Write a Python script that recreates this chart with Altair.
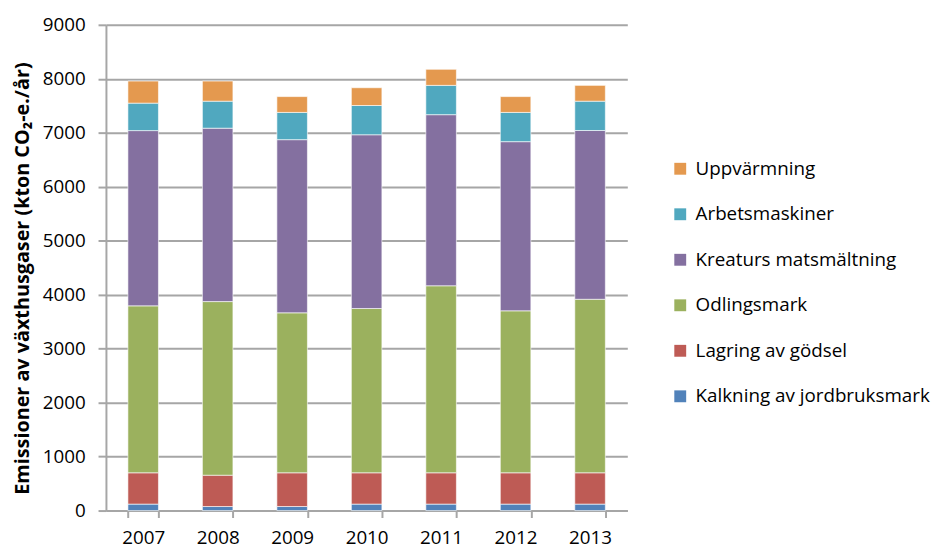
import altair as alt
import pandas as pd

years = ["2007", "2008", "2009", "2010", "2011", "2012", "2013"]
categories = [
    "Kalkning av jordbruksmark",
    "Lagring av gödsel",
    "Odlingsmark",
    "Kreaturs matsmältning",
    "Arbetsmaskiner",
    "Uppvärmning",
]
kalkning = [120, 75, 75, 120, 120, 120, 120]
lagring = [580, 580, 625, 580, 580, 580, 580]
odlingsmark = [3093, 3217, 2964, 3044, 3465, 3001, 3215]
kreatur = [3247, 3213, 3208, 3219, 3170, 3134, 3127]
arbetsmaskiner = [509, 500, 505, 542, 543, 542, 543]
uppvarmning = [409, 373, 293, 329, 298, 293, 293]
colors = ["#5182BA", "#BE5B55", "#9BB15E", "#8470A0", "#50A8BF", "#E4994F"]

series = [kalkning, lagring, odlingsmark, kreatur, arbetsmaskiner, uppvarmning]
rows = []
for ci, (cat, vals) in enumerate(zip(categories, series)):
    for y, v in zip(years, vals):
        rows.append({"År": y, "Kategori": cat, "Värde": v, "ord": ci})
df = pd.DataFrame(rows)

legend_order = list(reversed(categories))
legend_colors = list(reversed(colors))

FONT = "Open Sans"

chart = (
    alt.Chart(df)
    .mark_bar(stroke="#ffffff", strokeOpacity=0.6, strokeWidth=1)
    .encode(
        x=alt.X(
            "År:N",
            title=None,
            scale=alt.Scale(paddingInner=0.59, paddingOuter=0.295),
            axis=alt.Axis(
                labelAngle=0,
                labelFontSize=19,
                labelFont=FONT,
                labelColor="#000000",
                tickBand="extent",
                tickSize=7,
                tickColor="#A6A6A6",
                tickWidth=2,
                domainColor="#A6A6A6",
                domainWidth=2,
                labelPadding=11,
                labelBaseline="top",
                grid=False,
            ),
        ),
        y=alt.Y(
            "Värde:Q",
            stack="zero",
            scale=alt.Scale(domain=[0, 9000], nice=False),
            axis=alt.Axis(
                values=list(range(0, 9001, 1000)),
                format="d",
                title="Emissioner av växthusgaser (kton CO₂-e./år)",
                titleFont=FONT,
                titleFontSize=20,
                titleFontWeight="bold",
                titleColor="#000000",
                titleX=-74,
                titleY=256,
                titleAngle=270,
                titleBaseline="bottom",
                labelFontSize=19,
                labelFont=FONT,
                labelColor="#000000",
                labelPadding=13,
                tickSize=8,
                tickColor="#A6A6A6",
                tickWidth=2,
                domainColor="#A6A6A6",
                domainWidth=2,
                gridColor="#A6A6A6",
                gridWidth=2,
            ),
        ),
        color=alt.Color(
            "Kategori:N",
            scale=alt.Scale(domain=legend_order, range=legend_colors),
            legend=alt.Legend(
                title=None,
                orient="none",
                legendX=571,
                legendY=136,
                symbolType="square",
                symbolSize=144,
                symbolStrokeWidth=0,
                symbolOpacity=1,
                labelFont=FONT,
                labelFontSize=19,
                labelColor="#000000",
                labelOffset=6,
                rowPadding=26,
                padding=0,
                labelLimit=400,
            ),
        ),
        order=alt.Order("ord:Q", sort="ascending"),
    )
    .properties(
        width=527,
        height=491,
        autosize=alt.AutoSizeParams(type="none"),
        padding={"left": 99, "top": 14, "right": 310, "bottom": 50},
    )
    .configure_view(stroke=None)
)

chart.save("out.html", embed_options={"renderer": "svg", "actions": False})
